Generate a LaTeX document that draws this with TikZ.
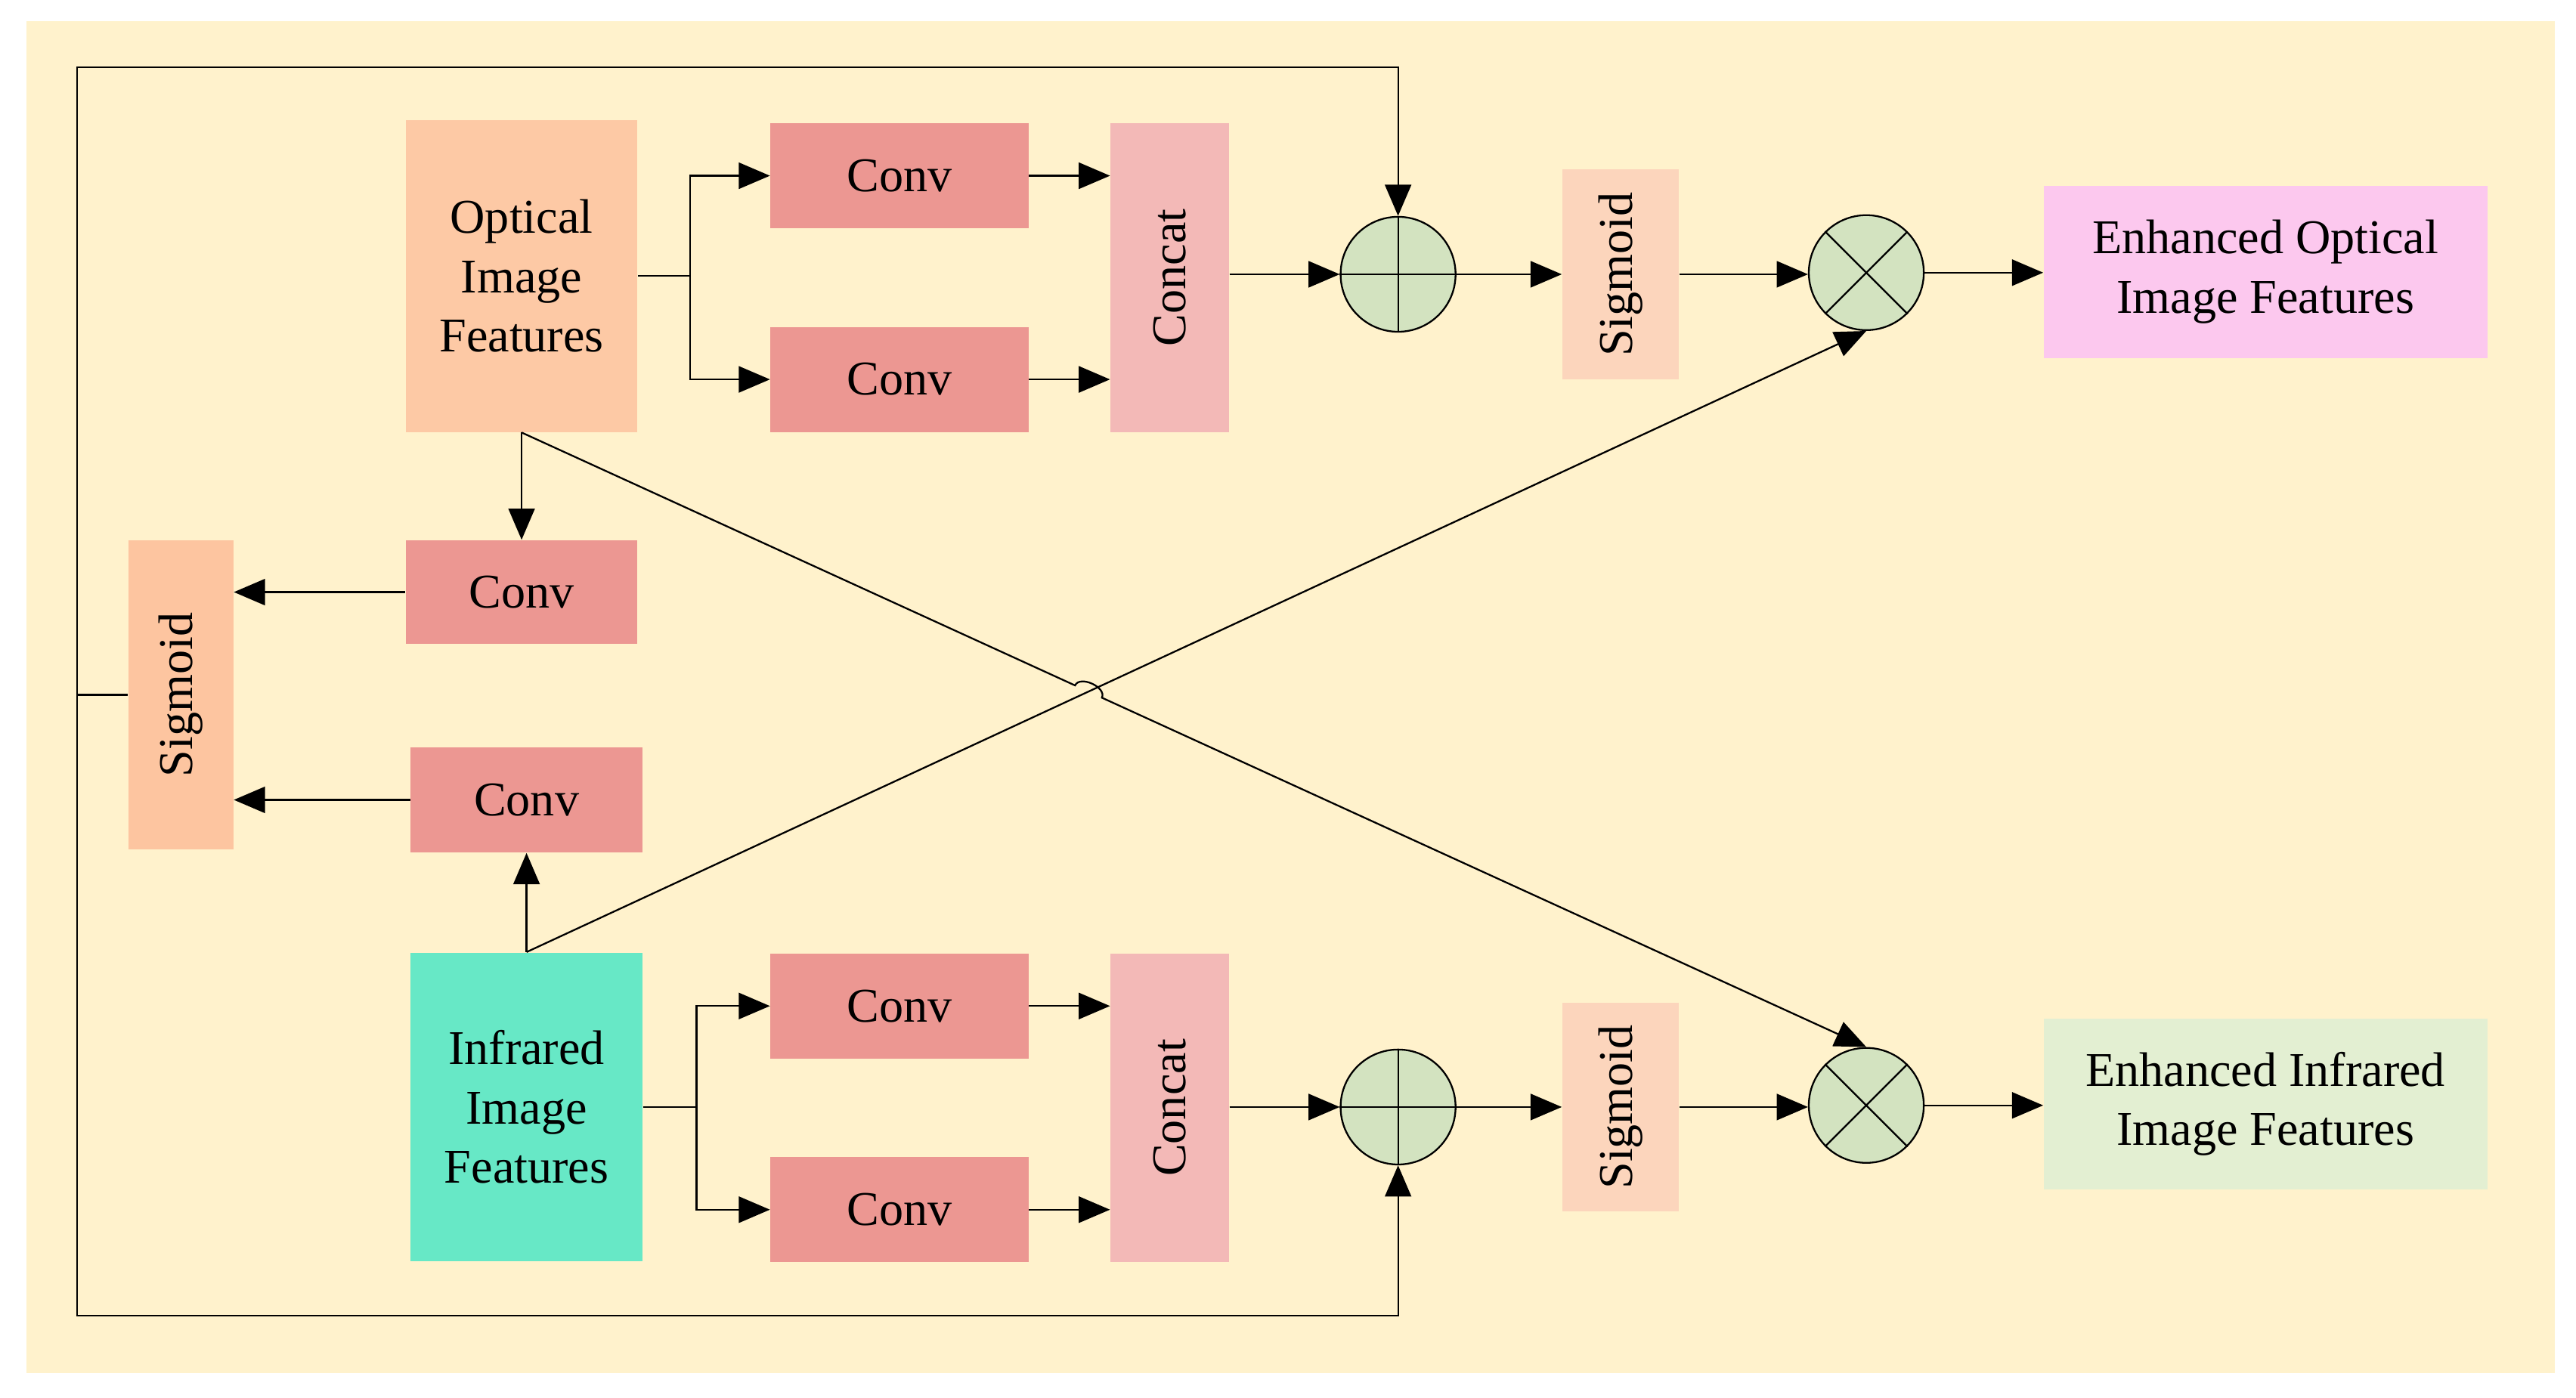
\documentclass[tikz,border=0pt]{standalone}
\usepackage{fontspec}
\setmainfont{Liberation Serif}
\usepackage{graphicx}
\usetikzlibrary{arrows.meta,calc,intersections}
\definecolor{bgcol}{HTML}{FFF2CC}
\definecolor{optcol}{HTML}{FDC9A5}
\definecolor{ircol}{HTML}{67E8C6}
\definecolor{convcol}{HTML}{EC9792}
\definecolor{catcol}{HTML}{F3B9B7}
\definecolor{sigcol}{HTML}{FCD5BC}
\definecolor{sigleftcol}{HTML}{FDC5A0}
\definecolor{opcol}{HTML}{D3E3C0}
\definecolor{enhoptcol}{HTML}{FCC8EE}
\definecolor{enhircol}{HTML}{E3EFD2}
\begin{document}
\begin{tikzpicture}[x=0.02cm, y=-0.02cm,
  every node/.style={inner sep=0pt, font=\fontsize{16.8}{20.5}\selectfont},
  block/.style={rectangle, align=center},
  convbox/.style={block, fill=convcol, minimum width=3.14cm, minimum height=1.28cm},
  catbox/.style={block, fill=catcol, minimum width=1.44cm, minimum height=3.76cm},
  sigbox/.style={block, fill=sigcol, minimum width=1.42cm, minimum height=2.56cm},
  featbox/.style={block, minimum width=2.82cm, minimum height=3.8cm},
  outbox/.style={block, minimum width=5.4cm, minimum height=2.1cm},
  opnode/.style={circle, draw, fill=opcol, line width=0.6pt, minimum size=1.4cm},
  line/.style={line width=0.6pt},
  arr/.style={line, -{Triangle[length=0.38cm, width=0.32cm]}}]
  \useasboundingbox (0,0) rectangle (1568,851);
  \fill[bgcol] (16,13) rectangle (1555,836);

  % optical branch
  \node[featbox, fill=optcol] (opt) at (317.5,168) {Optical\\Image\\Features};
  \node[convbox] (c1) at (547.5,107) {Conv};
  \node[convbox] (c2) at (547.5,231) {Conv};
  \node[catbox] (cat1) at (712,169) {\rotatebox{90}{Concat}};
  \node[opnode] (add1) at (851,167) {};
  \node[sigbox] (sig1) at (986.5,167) {\rotatebox{90}{Sigmoid}};
  \node[opnode] (mul1) at (1136,166) {};
  \node[outbox, fill=enhoptcol] (enh1) at (1379,165.5) {Enhanced Optical\\Image Features};

  % shared part
  \node[convbox, minimum width=2.82cm, minimum height=1.26cm] (cm1) at (317.5,360.5) {Conv};
  \node[block, fill=sigleftcol, minimum width=1.28cm, minimum height=3.76cm] (sigL) at (110,423) {\rotatebox{90}{Sigmoid}};
  \node[convbox, minimum width=2.82cm] (cm2) at (320.5,487) {Conv};

  % infrared branch
  \node[featbox, fill=ircol, minimum height=3.76cm] (ir) at (320.5,674) {Infrared\\Image\\Features};
  \node[convbox] (c3) at (547.5,612.5) {Conv};
  \node[convbox] (c4) at (547.5,736.5) {Conv};
  \node[catbox] (cat2) at (712,674.5) {\rotatebox{90}{Concat}};
  \node[opnode] (add2) at (851,674) {};
  \node[sigbox, minimum height=2.54cm] (sig2) at (986.5,674) {\rotatebox{90}{Sigmoid}};
  \node[opnode] (mul2) at (1136,673) {};
  \node[outbox, fill=enhircol, minimum height=2.08cm] (enh2) at (1379,672) {Enhanced Infrared\\Image Features};

  % symbols inside the circles
  \foreach \n in {add1,add2} {
    \draw[line] (\n.north) -- (\n.south) (\n.west) -- (\n.east);
  }
  \foreach \n in {mul1,mul2} {
    \draw[line] (\n.north west) -- (\n.south east) (\n.north east) -- (\n.south west);
  }

  % connectors, optical
  \coordinate (br1) at (420,168);
  \draw[line] (opt.east) -- (br1);
  \draw[arr] (br1) |- (c1.west);
  \draw[arr] (br1) |- (c2.west);
  \draw[arr] (c1.east) -- (c1.east -| cat1.west);
  \draw[arr] (c2.east) -- (c2.east -| cat1.west);
  \draw[arr] (cat1.east |- add1) -- (add1.west);
  \draw[arr] (add1.east) -- (add1.east -| sig1.west);
  \draw[arr] (sig1.east) -- (sig1.east -| mul1.west);
  \draw[arr] (mul1.east) -- (mul1.east -| enh1.west);

  % connectors, infrared
  \coordinate (br2) at (424,674);
  \draw[line] (ir.east) -- (br2);
  \draw[arr] (br2) |- (c3.west);
  \draw[arr] (br2) |- (c4.west);
  \draw[arr] (c3.east) -- (c3.east -| cat2.west);
  \draw[arr] (c4.east) -- (c4.east -| cat2.west);
  \draw[arr] (cat2.east |- add2) -- (add2.west);
  \draw[arr] (add2.east) -- (add2.east -| sig2.west);
  \draw[arr] (sig2.east) -- (sig2.east -| mul2.west);
  \draw[arr] (mul2.east) -- (mul2.east -| enh2.west);

  % shared part
  \draw[arr] (opt.south) -- (cm1.north);
  \draw[arr] (ir.north) -- (cm2.south);
  \draw[arr] (cm1.west) -- (cm1.west -| sigL.east);
  \draw[arr] (cm2.west) -- (cm2.west -| sigL.east);

  % feedback loop
  \coordinate (fbl) at (47,423);
  \coordinate (fbtop) at (47,41);
  \coordinate (fbbot) at (47,801);
  \draw[line] (sigL.west) -- (fbl);
  \draw[arr] (fbl) -- (fbtop) -| (add1.north);
  \draw[arr] (fbl) -- (fbbot) -| (add2.south);

  % crossing lines with a jump
  \path[name path=pa] (opt.south) -- (mul2.north);
  \path[name path=pb] (ir.north) -- (mul1.south);
  \path[name intersections={of=pa and pb, by=xing}];
  \draw[arr] (ir.north) -- (mul1.south);
  \draw[arr] (opt.south) -- ($(xing)!0.18cm!(opt.south)$)
    to[bend left=90] ($(xing)!0.18cm!(mul2.north)$) -- (mul2.north);
\end{tikzpicture}
\end{document}
